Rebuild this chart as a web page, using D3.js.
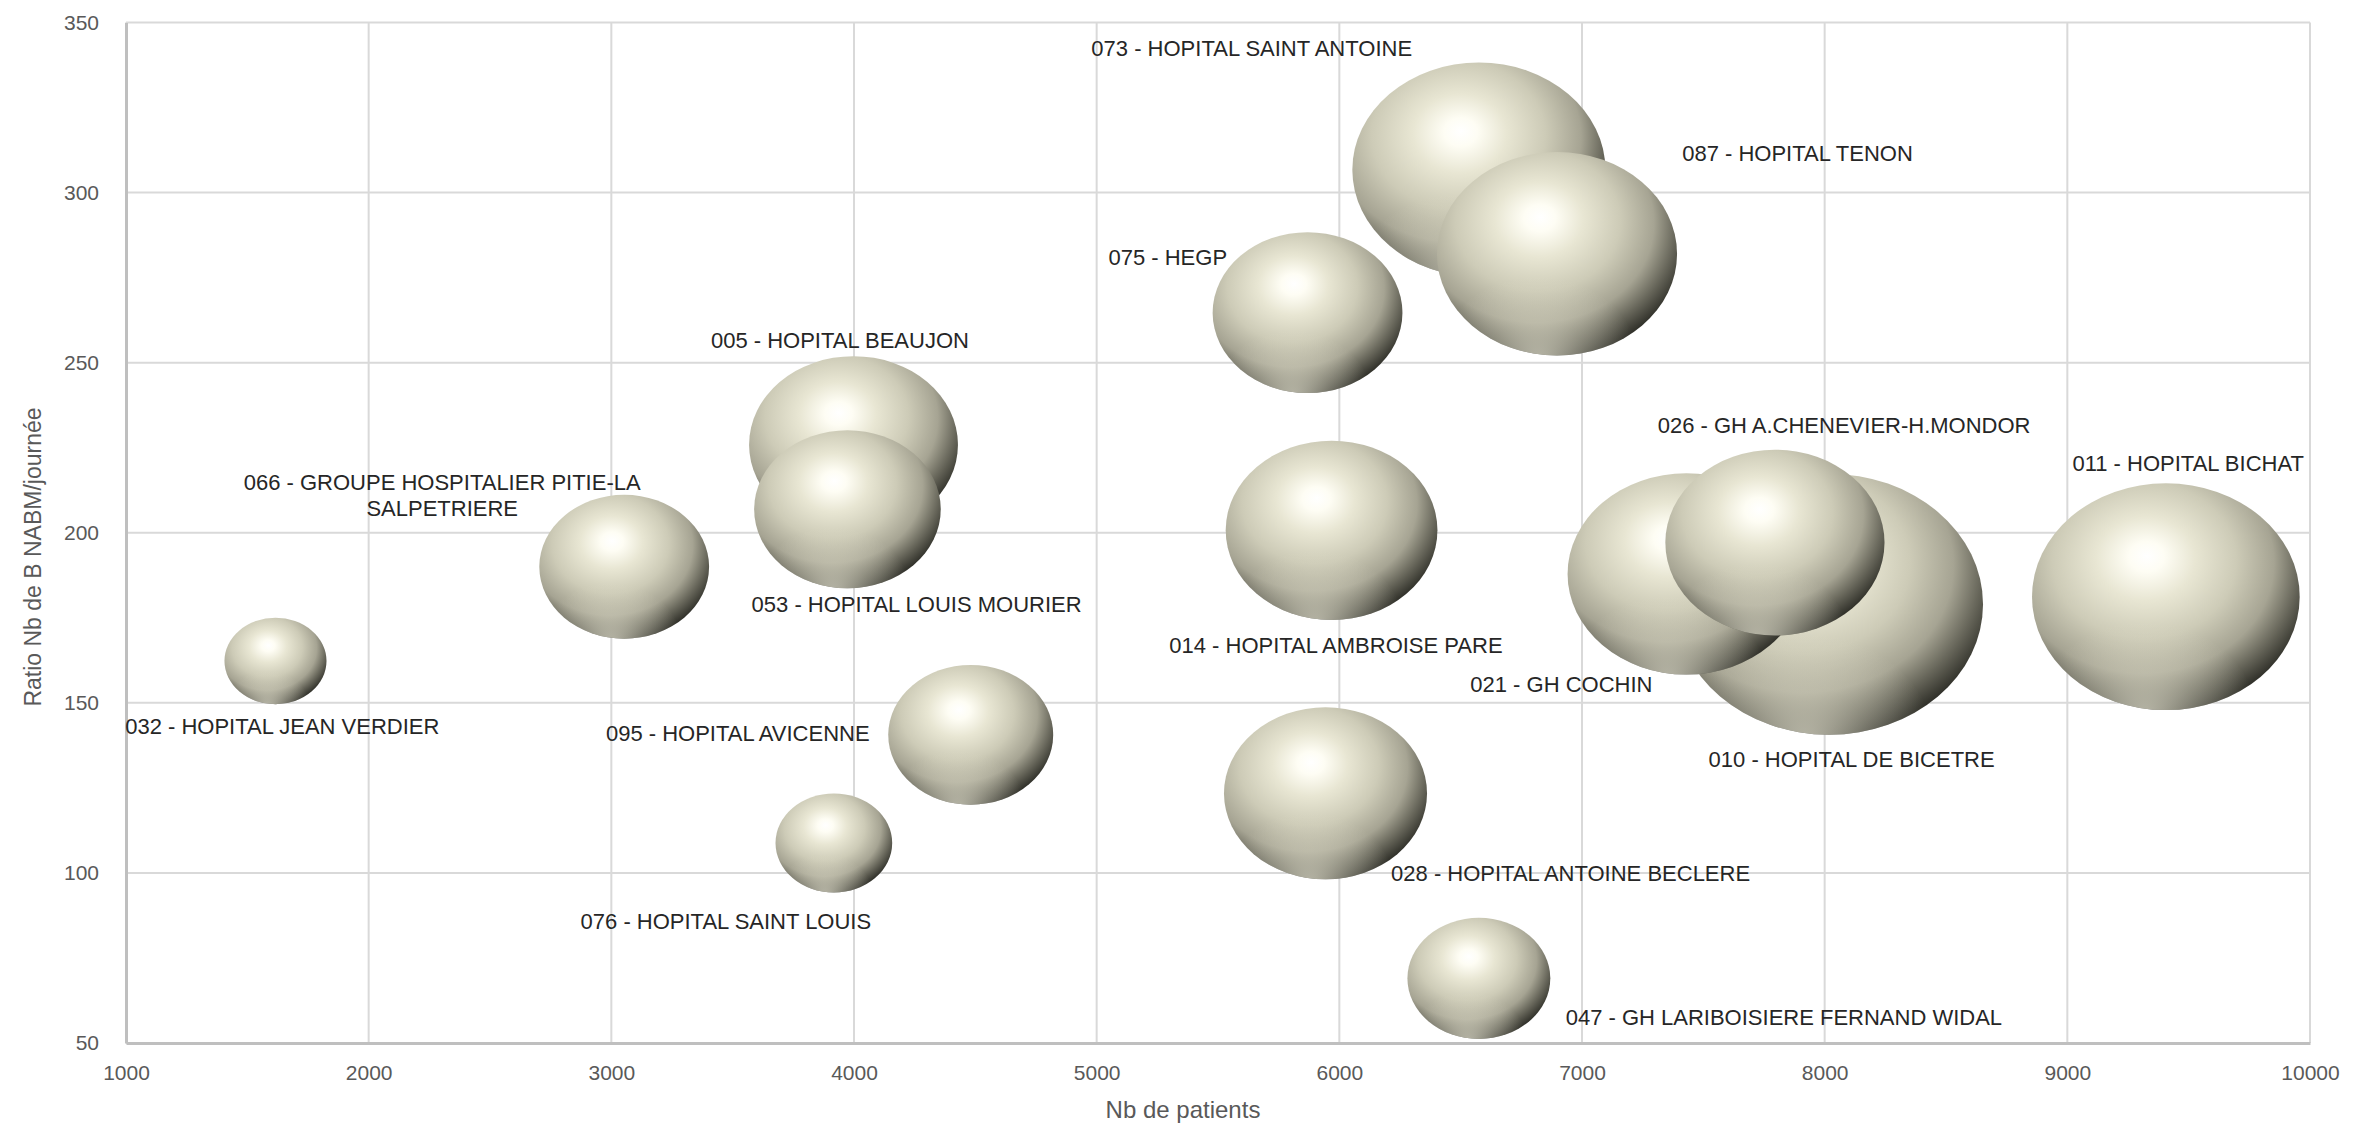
<!DOCTYPE html>
<html>
<head>
<meta charset="utf-8">
<script src="https://cdn.jsdelivr.net/npm/d3@7"></script>
<style>
  html, body { margin: 0; padding: 0; background: #ffffff; }
  svg { display: block; }
</style>
</head>
<body>
<svg id="chart" width="2357" height="1124"></svg>
<script>
// ---- Data ----
const hospitals = [
  "032 - HOPITAL JEAN VERDIER",
  "066 - GROUPE HOSPITALIER PITIE-LA SALPETRIERE",
  "005 - HOPITAL BEAUJON",
  "053 - HOPITAL LOUIS MOURIER",
  "095 - HOPITAL AVICENNE",
  "076 - HOPITAL SAINT LOUIS",
  "075 - HEGP",
  "014 - HOPITAL AMBROISE PARE",
  "028 - HOPITAL ANTOINE BECLERE",
  "047 - GH LARIBOISIERE FERNAND WIDAL",
  "073 - HOPITAL SAINT ANTOINE",
  "087 - HOPITAL TENON",
  "021 - GH COCHIN",
  "026 - GH A.CHENEVIER-H.MONDOR",
  "010 - HOPITAL DE BICETRE",
  "011 - HOPITAL BICHAT"
];
// Nb de patients
const patients = [1616, 3053, 3998, 3973, 4481, 3917, 5869, 5968, 5943, 6575, 6575, 6897, 7430, 7795, 8018, 9406];
// Ratio Nb de B NABM / journée
const ratio = [162.3, 190.0, 225.9, 206.9, 140.6, 108.8, 264.7, 200.7, 123.4, 69.0, 306.7, 282.0, 187.9, 197.1, 179.0, 181.2];
// Bubble size (relative)
const bubbleSize = [26, 72, 109, 87, 68, 34, 90, 112, 103, 51, 160, 144, 141, 120, 237, 179];
// Label anchor positions, in data units [patients, ratio]
const labelX = [1644, 2303, 3942, 4258, 3521, 3472, 5293, 5986, 6953, 7832, 5639, 7888, 6915, 8080, 8111, 9498];
const labelY = [143.2, 211.1, 256.8, 179.0, 141.0, 85.8, 281.1, 167.1, 100.0, 57.5, 342.5, 311.6, 155.6, 231.6, 133.5, 220.5];
// Multi-line label splits
const labelLines = {1: ["066 - GROUPE HOSPITALIER PITIE-LA", "SALPETRIERE"]};

const xTicks = [1000, 2000, 3000, 4000, 5000, 6000, 7000, 8000, 9000, 10000];
const yTicks = [50, 100, 150, 200, 250, 300, 350];
const xTitle = "Nb de patients";
const yTitle = "Ratio Nb de B NABM/journée";

// ---- Layout ----
const W = 2357, H = 1124;
const margin = {left: 126, right: W - 2310, top: 22.5, bottom: H - 1043};
const svg = d3.select("#chart");
const pw = W - margin.left - margin.right;
const ph = H - margin.top - margin.bottom;

const x = d3.scaleLinear().domain([1000, 10000]).range([margin.left, margin.left + pw]);
const y = d3.scaleLinear().domain([50, 350]).range([margin.top + ph, margin.top]);
const rx = d3.scaleSqrt().domain([0, d3.max(bubbleSize)]).range([0, 154]);
const aspect = 1.18;

const defs = svg.append("defs");
const g1 = defs.append("radialGradient").attr("id", "sphere")
  .attr("cx", 0.41).attr("cy", 0.36).attr("r", 0.66).attr("fx", 0.43).attr("fy", 0.32);
[[0, "#ffffff"], [0.1, "#fefdf4"], [0.28, "#e8e6d3"], [0.52, "#cdcbb7"], [0.74, "#a6a493"], [0.88, "#68675b"], [1, "#33332c"]]
  .forEach(s => g1.append("stop").attr("offset", s[0]).attr("stop-color", s[1]));
const g2 = defs.append("radialGradient").attr("id", "rim")
  .attr("cx", 0.42).attr("cy", 1.03).attr("r", 0.42);
[[0, "#e6e4d2", 0.75], [0.5, "#e2e0cd", 0.35], [1, "#e2e0cd", 0]]
  .forEach(s => g2.append("stop").attr("offset", s[0]).attr("stop-color", s[1]).attr("stop-opacity", s[2]));

svg.append("rect").attr("width", W).attr("height", H).attr("fill", "#ffffff");

// Grid
const grid = svg.append("g");
grid.selectAll(".vg").data(xTicks).join("line")
  .attr("x1", d => x(d)).attr("x2", d => x(d))
  .attr("y1", margin.top).attr("y2", margin.top + ph)
  .attr("stroke", "#d9d9d9").attr("stroke-width", 2);
grid.selectAll(".hg").data(yTicks).join("line")
  .attr("x1", margin.left).attr("x2", margin.left + pw)
  .attr("y1", d => y(d)).attr("y2", d => y(d))
  .attr("stroke", "#d9d9d9").attr("stroke-width", 2);

// Axes
const xAxis = svg.append("g").attr("transform", `translate(0,${margin.top + ph})`)
  .call(d3.axisBottom(x).tickValues(xTicks).tickSize(0).tickPadding(22).tickFormat(d3.format("d")));
const yAxis = svg.append("g").attr("transform", `translate(${margin.left},0)`)
  .call(d3.axisLeft(y).tickValues(yTicks).tickSize(0).tickPadding(27).tickFormat(d3.format("d")));
[xAxis, yAxis].forEach(a => {
  a.select(".domain").attr("stroke", "#bfbfbf").attr("stroke-width", 3);
  a.selectAll("text").attr("fill", "#595959").style("font-family", "'Liberation Sans', Arial, sans-serif").style("font-size", "21px");
});

// Bubbles (largest drawn first)
const idx = d3.range(hospitals.length).sort((a, b) => bubbleSize[b] - bubbleSize[a]);
const bubbles = svg.append("g");
idx.forEach(i => {
  const cx = x(patients[i]), cy = y(ratio[i]);
  const r = rx(bubbleSize[i]);
  bubbles.append("ellipse").attr("cx", cx).attr("cy", cy).attr("rx", r).attr("ry", r / aspect)
    .attr("fill", "url(#sphere)");
  bubbles.append("ellipse").attr("cx", cx).attr("cy", cy).attr("rx", r).attr("ry", r / aspect)
    .attr("fill", "url(#rim)");
});

// Labels
const labels = svg.append("g")
  .style("font-family", "'Liberation Sans', Arial, sans-serif").style("font-size", "22px").attr("fill", "#262626");
hospitals.forEach((h, i) => {
  const lines = labelLines[i] || [h];
  const lh = 26.6;
  const t = labels.append("text").attr("text-anchor", "middle")
    .attr("x", x(labelX[i])).attr("y", y(labelY[i]) - (lines.length - 1) * lh / 2)
    .attr("dominant-baseline", "central");
  lines.forEach((l, k) => t.append("tspan").attr("x", x(labelX[i])).attr("dy", k === 0 ? 0 : lh).text(l));
});

// Axis titles
svg.append("text").attr("x", 1183).attr("y", 1118).attr("text-anchor", "middle")
  .attr("fill", "#595959").style("font-family", "'Liberation Sans', Arial, sans-serif").style("font-size", "24px")
  .text(xTitle);
svg.append("text").attr("transform", `translate(41,${557}) rotate(-90)`).attr("text-anchor", "middle")
  .attr("fill", "#595959").style("font-family", "'Liberation Sans', Arial, sans-serif").style("font-size", "23px")
  .text(yTitle);
</script>
</body>
</html>
